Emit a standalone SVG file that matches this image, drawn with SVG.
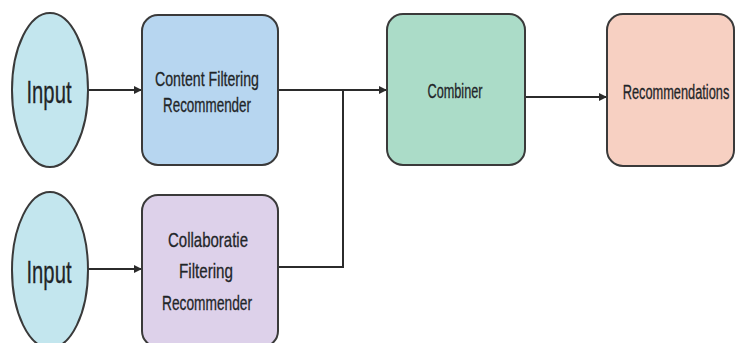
<svg xmlns="http://www.w3.org/2000/svg" width="735" height="343" viewBox="0 0 735 343">
<defs>
<style>
.n{stroke:#3a3a3a;stroke-width:2}
.t{font-family:"Liberation Sans",Arial,sans-serif;fill:#1f2528;stroke:#1f2528;stroke-width:0.3;text-anchor:middle}
.c{fill:none;stroke:#2b2b2b;stroke-width:2}
</style>
<marker id="ah" markerWidth="8" markerHeight="8" refX="7" refY="4" orient="auto" markerUnits="userSpaceOnUse">
<path d="M0,0 L8,4 L0,8 Z" fill="#2b2b2b"/>
</marker>
</defs>
<rect width="735" height="343" fill="#ffffff"/>
<g id="connectors">
<path class="c" d="M87,90 L141,90" marker-end="url(#ah)"/>
<path class="c" d="M87,269 L141,269" marker-end="url(#ah)"/>
<path class="c" d="M278,90 L386,90" marker-end="url(#ah)"/>
<path class="c" d="M278,267 L343,267 L343,90"/>
<path class="c" d="M525,97 L606,97" stroke-width="3" marker-end="url(#ah)"/>
</g>
<g id="input1">
<ellipse class="n" cx="50" cy="90" rx="38" ry="77" fill="#c3e6ee"/>
<text class="t" x="49" y="103" font-size="32" textLength="45" lengthAdjust="spacingAndGlyphs">Input</text>
</g>
<g id="input2">
<ellipse class="n" cx="50" cy="270" rx="38" ry="78" fill="#c3e6ee"/>
<text class="t" x="49" y="283" font-size="32" textLength="45" lengthAdjust="spacingAndGlyphs">Input</text>
</g>
<g id="content">
<rect class="n" x="142" y="15" width="136" height="150" rx="16" fill="#b7d6f0"/>
<text class="t" x="207" y="86" font-size="21" textLength="104" lengthAdjust="spacingAndGlyphs">Content Filtering</text>
<text class="t" x="207" y="112" font-size="21" textLength="88" lengthAdjust="spacingAndGlyphs">Recommender</text>
</g>
<g id="collab">
<rect class="n" x="142" y="195" width="136" height="152" rx="16" fill="#ddd1ea"/>
<text class="t" x="208" y="247" font-size="21" textLength="80" lengthAdjust="spacingAndGlyphs">Collaboratie</text>
<text class="t" x="206" y="278" font-size="21" textLength="54" lengthAdjust="spacingAndGlyphs">Filtering</text>
<text class="t" x="207" y="310" font-size="21" textLength="90" lengthAdjust="spacingAndGlyphs">Recommender</text>
</g>
<g id="combiner">
<rect class="n" x="387" y="14" width="138" height="151" rx="16" fill="#abdcc8"/>
<text class="t" x="455" y="98" font-size="21" textLength="55" lengthAdjust="spacingAndGlyphs">Combiner</text>
</g>
<g id="recommendations">
<rect class="n" x="607" y="14" width="127" height="152" rx="16" fill="#f7d0c2"/>
<text class="t" transform="translate(676,99) scale(0.64,1)" x="0" y="0" font-size="20">Recommendations</text>
</g>
</svg>
